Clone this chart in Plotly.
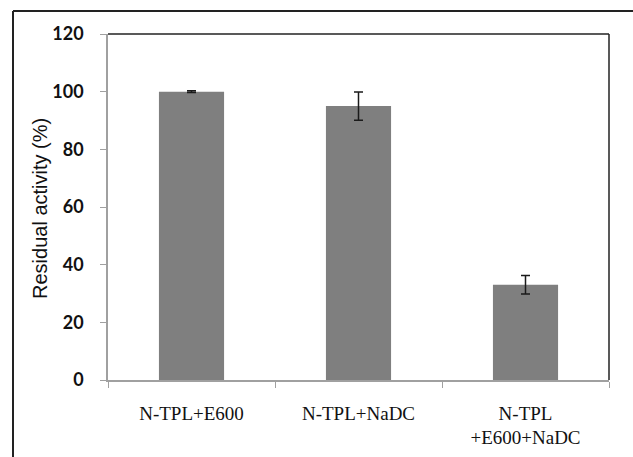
import plotly.graph_objects as go

categories = ["N-TPL+E600", "N-TPL+NaDC", "N-TPL<br>+E600+NaDC"]
values = [100, 95, 33]
errors = [0.3, 4.9, 3.2]
y_ticks = [0, 20, 40, 60, 80, 100, 120]

W, H = 633, 457
L, R, T, B = 108, 24, 34, 77
pw, ph = W - L - R, H - T - B

def px_x(p):
    return (p - L) / pw

def px_y(p):
    return (H - B - p) / ph

fig = go.Figure()
fig.add_trace(go.Bar(
    x=categories, y=values,
    marker=dict(color="#7f7f7f", line=dict(width=0)),
    error_y=dict(type="data", array=errors, visible=True, color="#1a1a1a", thickness=1.5, width=4.5),
    width=0.39,
))

fig.update_layout(
    width=W, height=H,
    margin=dict(l=L, r=R, t=T, b=B),
    paper_bgcolor="white", plot_bgcolor="white",
    showlegend=False,
    xaxis=dict(
        type="category", showgrid=False, showline=True, linecolor="#a0a0a0", linewidth=1.5,
        ticks="outside", tickson="boundaries", ticklen=6, tickcolor="#a0a0a0",
        tickfont=dict(family="Liberation Serif", size=19, color="#111"),
        ticklabelstandoff=15, automargin=False,
    ),
    yaxis=dict(
        range=[0, 120], tickvals=y_ticks, showgrid=False, zeroline=False,
        showline=True, linecolor="#a0a0a0", linewidth=1.5,
        ticks="outside", ticklen=6, tickcolor="#a0a0a0",
        tickfont=dict(family="Lato", size=18, color="#111", weight="bold"),
        ticklabelstandoff=13, automargin=False,
    ),
    annotations=[dict(
        text="Residual activity (%)", xref="paper", yref="paper",
        x=px_x(40), y=px_y(209), textangle=-90, showarrow=False,
        xanchor="center", yanchor="middle",
        font=dict(family="Liberation Sans", size=20, color="#111"),
    )],
    shapes=[
        dict(type="line", xref="paper", yref="paper", x0=0, x1=1, y0=1, y1=1,
             line=dict(color="#222", width=1.5)),
        dict(type="line", xref="paper", yref="paper", x0=1, x1=1, y0=0, y1=1,
             line=dict(color="#222", width=1.5)),
        dict(type="line", xref="paper", yref="paper", x0=px_x(13), x1=px_x(640), y0=px_y(11), y1=px_y(11),
             line=dict(color="#222", width=2)),
        dict(type="line", xref="paper", yref="paper", x0=px_x(13), x1=px_x(13), y0=px_y(11), y1=px_y(470),
             line=dict(color="#222", width=2)),
    ],
)

fig.write_html("out.html")
